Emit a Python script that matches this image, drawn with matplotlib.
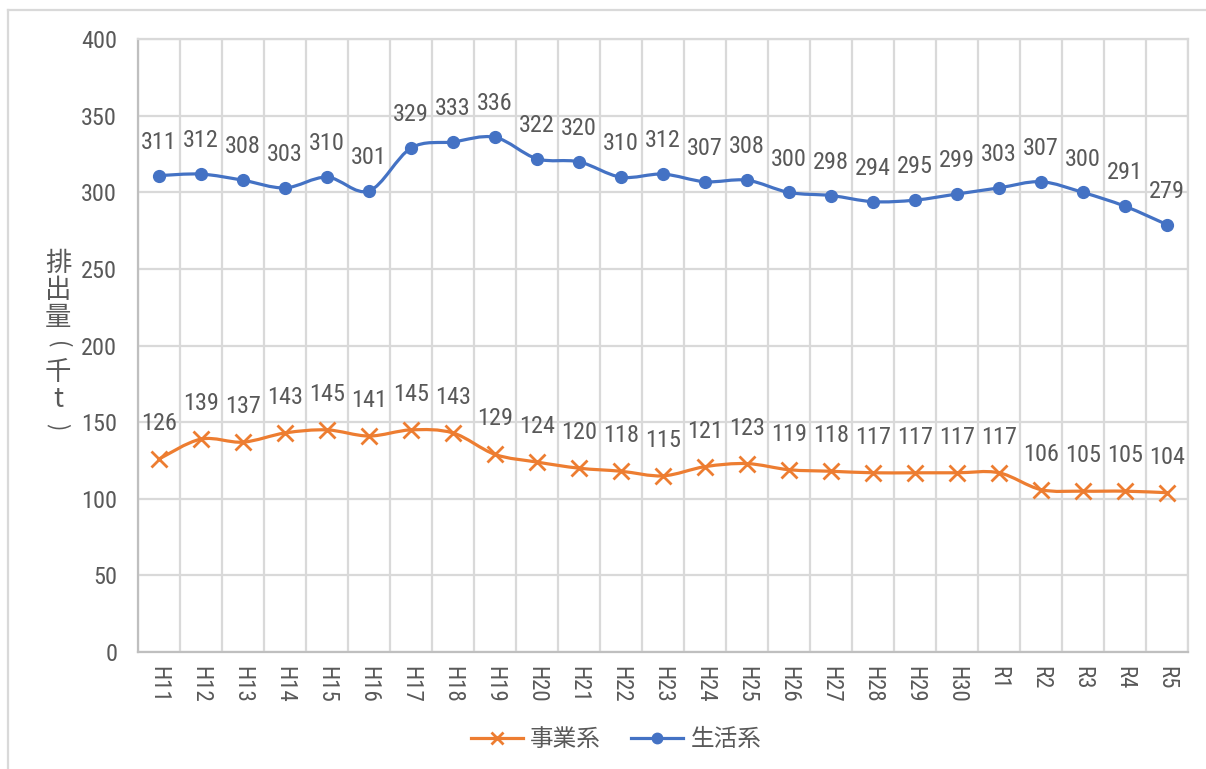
import matplotlib
matplotlib.use("Agg")
import matplotlib.pyplot as plt
from matplotlib.path import Path
from matplotlib.patches import PathPatch
from matplotlib.lines import Line2D
from matplotlib import font_manager as fm
from matplotlib.font_manager import FontProperties
import numpy as np

categories = ["H11", "H12", "H13", "H14", "H15", "H16", "H17", "H18", "H19", "H20",
              "H21", "H22", "H23", "H24", "H25", "H26", "H27", "H28", "H29", "H30",
              "R1", "R2", "R3", "R4", "R5"]
seikatsu = [311, 312, 308, 303, 310, 301, 329, 333, 336, 322, 320, 310, 312, 307, 308,
            300, 298, 294, 295, 299, 303, 307, 300, 291, 279]
jigyo = [126, 139, 137, 143, 145, 141, 145, 143, 129, 124, 120, 118, 115, 121, 123,
         119, 118, 117, 117, 117, 117, 106, 105, 105, 104]
yticks = [0, 50, 100, 150, 200, 250, 300, 350, 400]

# find a narrow/condensed sans font for digits if available
def is_regular(f):
    return f.style == "normal" and f.weight in (400, "normal", "regular", "book")

cands = []
for f in fm.fontManager.ttflist:
    nm = f.name.lower()
    fn = f.fname.lower()
    if not is_regular(f):
        continue
    if "mono" in nm or "serif" in nm and "sans" not in nm:
        continue
    if ("narrow" in nm or "condensed" in nm or "condensed" in fn or "narrow" in fn
            or f.stretch in ("condensed", "semi-condensed", "extra-condensed")):
        if any(k in fn for k in ["bold", "italic", "light", "semibold", "medium", "thin", "black"]):
            continue
        cands.append(f)

def rank(f):
    nm = f.name.lower()
    order = ["liberation sans narrow", "roboto condensed", "noto sans", "open sans", "dejavu sans"]
    for i, o in enumerate(order):
        if o in nm:
            return i
    return 99

cands.sort(key=rank)
if cands:
    NUMFILE = cands[0].fname
    def numprop(size):
        return FontProperties(fname=NUMFILE, size=size)
    NUMSIZE = 17.5
else:
    def numprop(size):
        return FontProperties(family=["Roboto", "DejaVu Sans"], size=size)
    NUMSIZE = 15

CJK = ["Noto Sans CJK JP", "DejaVu Sans"]

TXT = "#595959"
GRID = "#D9D9D9"
ORANGE = "#ED7D31"
BLUE = "#4472C4"

W, H = 1206, 769
fig = plt.figure(figsize=(W / 100, H / 100), dpi=100)
ax = fig.add_axes([138 / W, 1 - 652 / H, (1188 - 138) / W, (652 - 39.3) / H])

x = np.arange(len(categories))


def smooth_path(xs, ys):
    pts = np.column_stack([xs, ys]).astype(float)
    n = len(pts)
    verts = [pts[0]]
    codes = [Path.MOVETO]
    for i in range(n - 1):
        p0 = pts[i - 1] if i > 0 else pts[i]
        p1 = pts[i]
        p2 = pts[i + 1]
        p3 = pts[i + 2] if i + 2 < n else pts[i + 1]
        c1 = p1 + (p2 - p0) / 6.0
        c2 = p2 - (p3 - p1) / 6.0
        verts += [c1, c2, p2]
        codes += [Path.CURVE4] * 3
    return Path(verts, codes)


for vals, col in [(jigyo, ORANGE), (seikatsu, BLUE)]:
    ax.add_patch(PathPatch(smooth_path(x, vals), fill=False, edgecolor=col,
                           lw=2.3, capstyle="round", joinstyle="round", zorder=3))

ax.plot(x, jigyo, linestyle="none", marker="x", markersize=11, mew=2,
        color=ORANGE, zorder=4)
ax.plot(x, seikatsu, linestyle="none", marker="o", markersize=8.5,
        color=BLUE, zorder=4)

for xi, v in zip(x, seikatsu):
    ax.annotate(str(v), (xi, v), xytext=(0, 24), textcoords="offset points",
                ha="center", va="center", color=TXT, fontproperties=numprop(NUMSIZE))
for xi, v in zip(x, jigyo):
    ax.annotate(str(v), (xi, v), xytext=(0, 25.5), textcoords="offset points",
                ha="center", va="center", color=TXT, fontproperties=numprop(NUMSIZE))

ax.set_xlim(-0.5, len(categories) - 0.5)
ax.set_ylim(0, 400)
ax.set_yticks(yticks)
ax.set_yticklabels([str(t) for t in yticks], fontproperties=numprop(NUMSIZE), color=TXT)
ax.set_xticks(x)
ax.set_xticklabels(categories, rotation=270, fontproperties=numprop(NUMSIZE - 1), color=TXT,
                   va="top", ha="center")
ax.set_xticks(np.arange(-0.5, len(categories), 1.0), minor=True)
ax.tick_params(axis="both", which="both", length=0)
ax.tick_params(axis="y", pad=15)
ax.tick_params(axis="x", pad=10)
ax.grid(True, axis="y", which="major", color=GRID, lw=1.6, zorder=0)
ax.grid(True, axis="x", which="minor", color=GRID, lw=1.6, zorder=0)
ax.grid(False, axis="x", which="major")
ax.set_axisbelow(True)
for s in ["top", "right"]:
    ax.spines[s].set_color(GRID)
    ax.spines[s].set_linewidth(1.6)
for s in ["left", "bottom"]:
    ax.spines[s].set_color("#BFBFBF")
    ax.spines[s].set_linewidth(1.6)

# vertical y-axis label (stacked, upright characters; brackets turned)
ylab = ["排", "出", "量", "(", "千", "t", ")"]
y0 = 263
step = 27.3
for i, ch in enumerate(ylab):
    yy = 1 - (y0 + i * step) / H
    if ch in "()":
        fig.text(58 / W, yy, ch, ha="center", va="center", rotation=-90,
                 fontsize=16, color=TXT, family=CJK)
    else:
        fig.text(58 / W, yy, ch, ha="center", va="center",
                 fontsize=19, color=TXT, family=CJK)

# legend
handles = [
    Line2D([], [], color=ORANGE, lw=2.3, marker="x", markersize=9, mew=2),
    Line2D([], [], color=BLUE, lw=2.3, marker="o", markersize=7.5),
]
fig.legend(handles, ["事業系", "生活系"], loc="center", bbox_to_anchor=(616 / W, 1 - 740 / H),
           ncol=2, frameon=False, prop={"family": CJK, "size": 17},
           labelcolor=TXT, handlelength=2.2, handletextpad=0.3, columnspacing=1.3)

# outer border (top and left visible)
fig.add_artist(Line2D([8 / W, 1], [1 - 10 / H, 1 - 10 / H], color=GRID, lw=1.6,
                      transform=fig.transFigure))
fig.add_artist(Line2D([8 / W, 8 / W], [0, 1 - 10 / H], color=GRID, lw=1.6,
                      transform=fig.transFigure))

fig.savefig("out.png", dpi=100)
